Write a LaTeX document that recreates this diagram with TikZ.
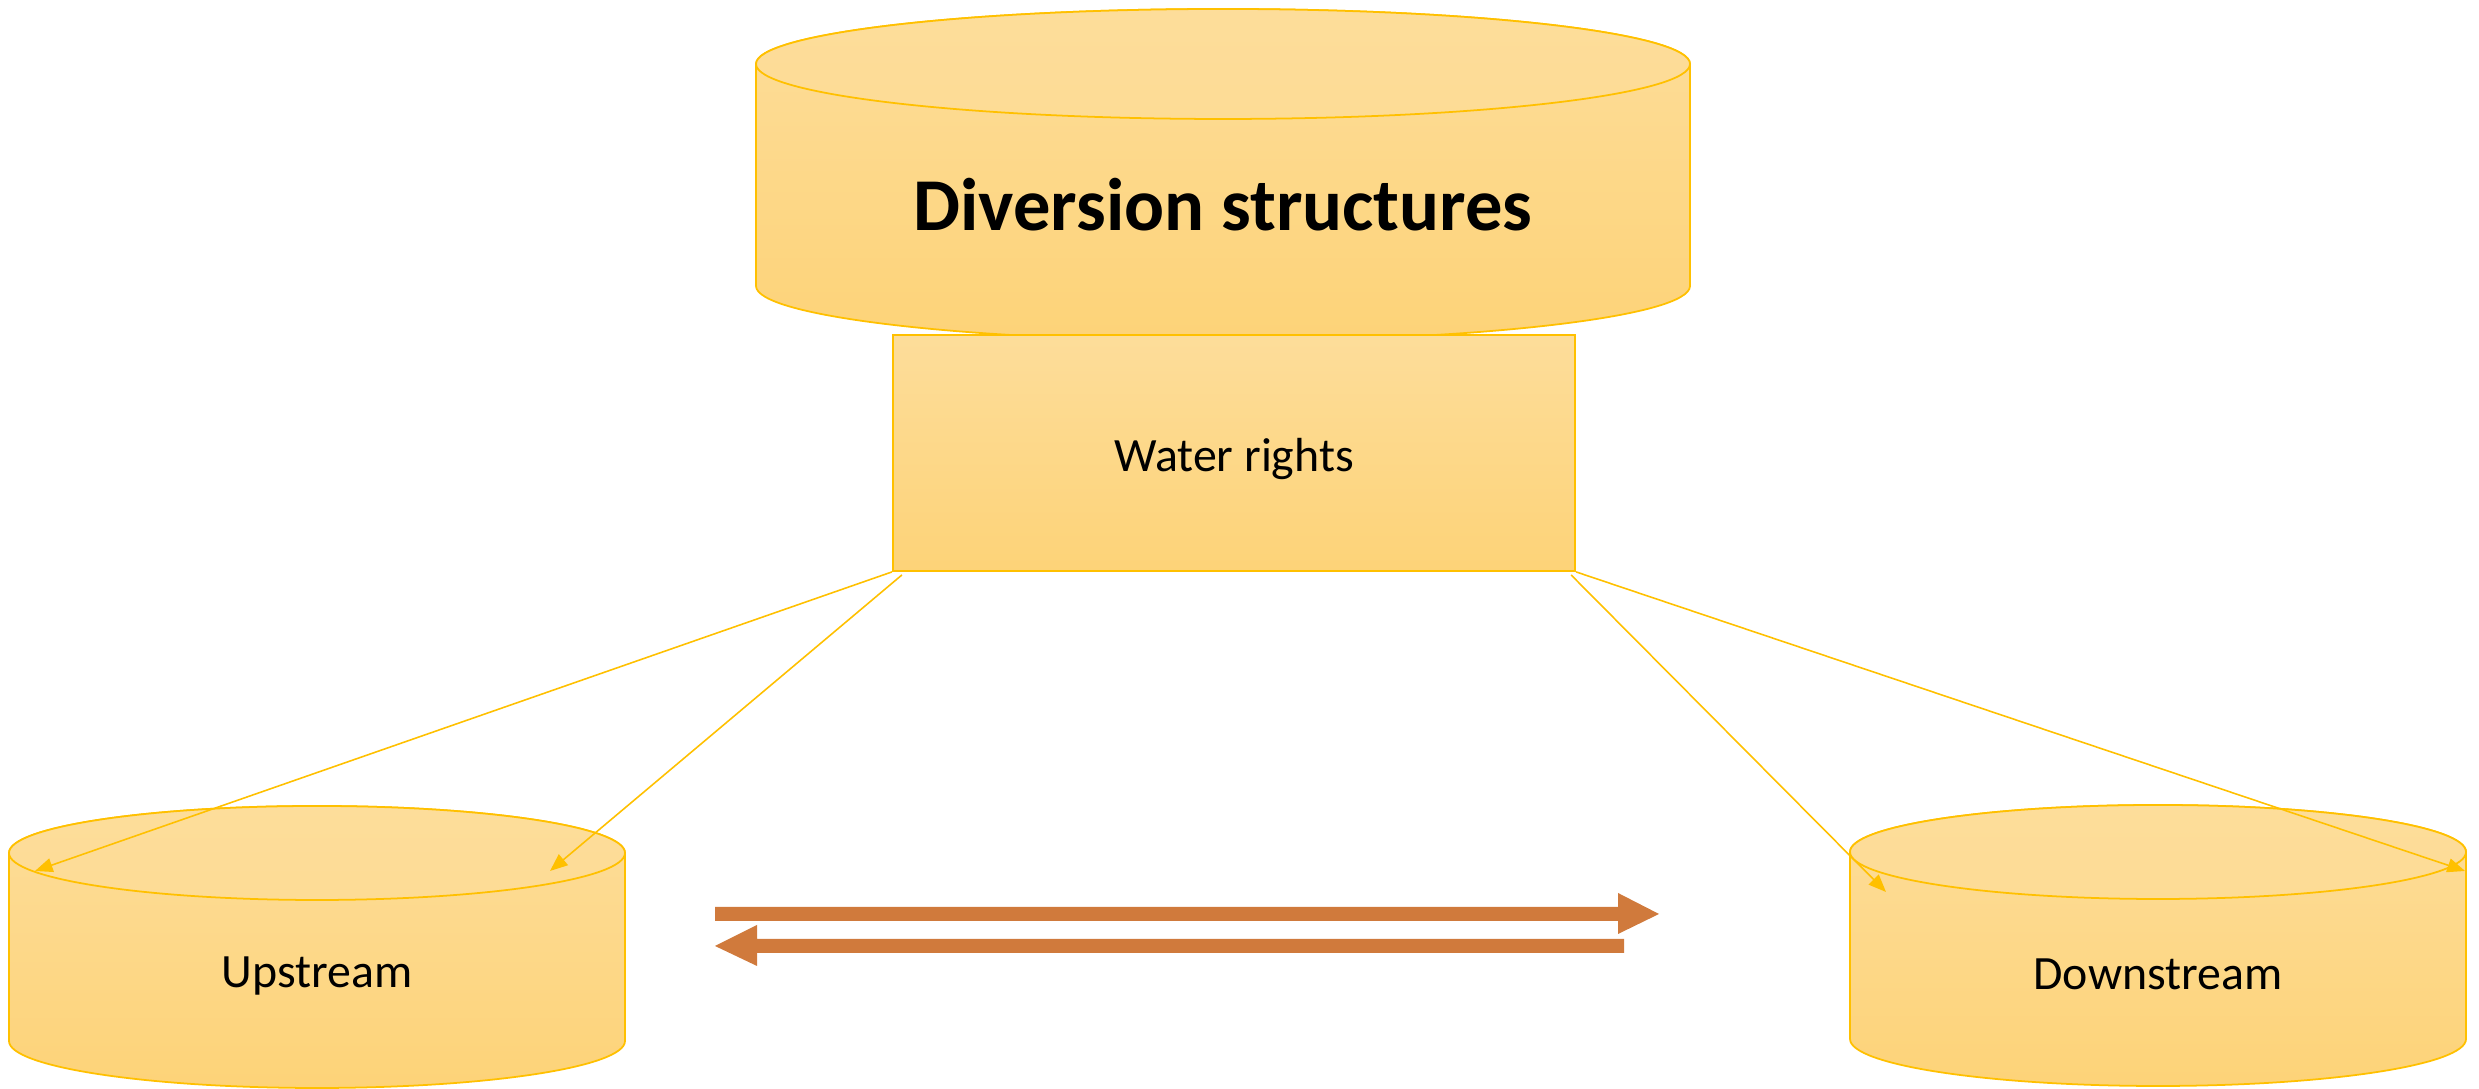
\documentclass[tikz,border=0pt]{standalone}
\usepackage{fontspec}
\setmainfont{Carlito}
\usetikzlibrary{arrows.meta,calc}
\definecolor{gold}{RGB}{255,192,0}
\definecolor{filltop}{RGB}{253,221,154}
\definecolor{fillbot}{RGB}{253,211,120}
\definecolor{rust}{RGB}{208,122,60}
\tikzset{
  x=0.01cm, y=0.01cm,
  goldfill/.style={draw=gold, line width=0.5pt, top color=filltop, bottom color=fillbot},
  link/.style={draw=gold, line width=0.45pt, -{Triangle[length=5pt,width=4pt]}},
  flow/.style={fill=rust, draw=none},
  label/.style={font=\fontsize{13.6}{16}\selectfont, inner sep=0pt}
}
% drum: centre x, top rim y, bottom rim y, x radius, y radius
\newcommand\drum[5]{%
  \path[goldfill] (#1-#4,#2) -- (#1-#4,#3)
     arc[start angle=180, end angle=360, x radius=#4, y radius=#5]
     -- (#1+#4,#2)
     arc[start angle=0, end angle=180, x radius=#4, y radius=#5] -- cycle;
  \path[goldfill, top color=filltop, bottom color=filltop!85!fillbot]
     (#1,#2) ellipse[x radius=#4, y radius=#5];
}
\begin{document}
\begin{tikzpicture}
\useasboundingbox (0,0) rectangle (2479,1089);

% storage drums
\drum{1223}{1025}{803}{467}{55}
\drum{317}{236}{48}{308}{47}
\drum{2158}{237}{50}{308}{47}

\node[inner sep=0pt, font=\bfseries\fontsize{21.2}{25}\selectfont] (div) at (1223,884) {Diversion structures};
\node[label] (up) at (317,113) {Upstream};
\node[label] (down) at (2158,115) {Downstream};

% rights box
\node[goldfill, minimum width=6.82cm, minimum height=2.36cm, inner sep=0pt] (wr) at (1234,636) {};
\node[label] (wrtext) at (1234,630) {Water rights};

% rim points reached by the links
\coordinate (upL) at (35,218);
\coordinate (upR) at (550,218);
\coordinate (dnL) at (1886,197);
\coordinate (dnR) at (2465,218);

\draw[link] (wr.south west) -- (upL);
\draw[link] ([xshift=0.1cm,yshift=-0.03cm]wr.south west) -- (upR);
\draw[link] ([xshift=-0.05cm,yshift=-0.03cm]wr.south east) -- (dnL);
\draw[link] (wr.south east) -- (dnR);

% exchange arrows
\fill[flow] (715,168) -- (1618,168) -- (1618,155) -- (1659,175) -- (1618,196) -- (1618,182) -- (715,182) -- cycle;
\fill[flow] (1624,136) -- (757,136) -- (757,123) -- (715,143) -- (757,164) -- (757,150) -- (1624,150) -- cycle;
\end{tikzpicture}
\end{document}
